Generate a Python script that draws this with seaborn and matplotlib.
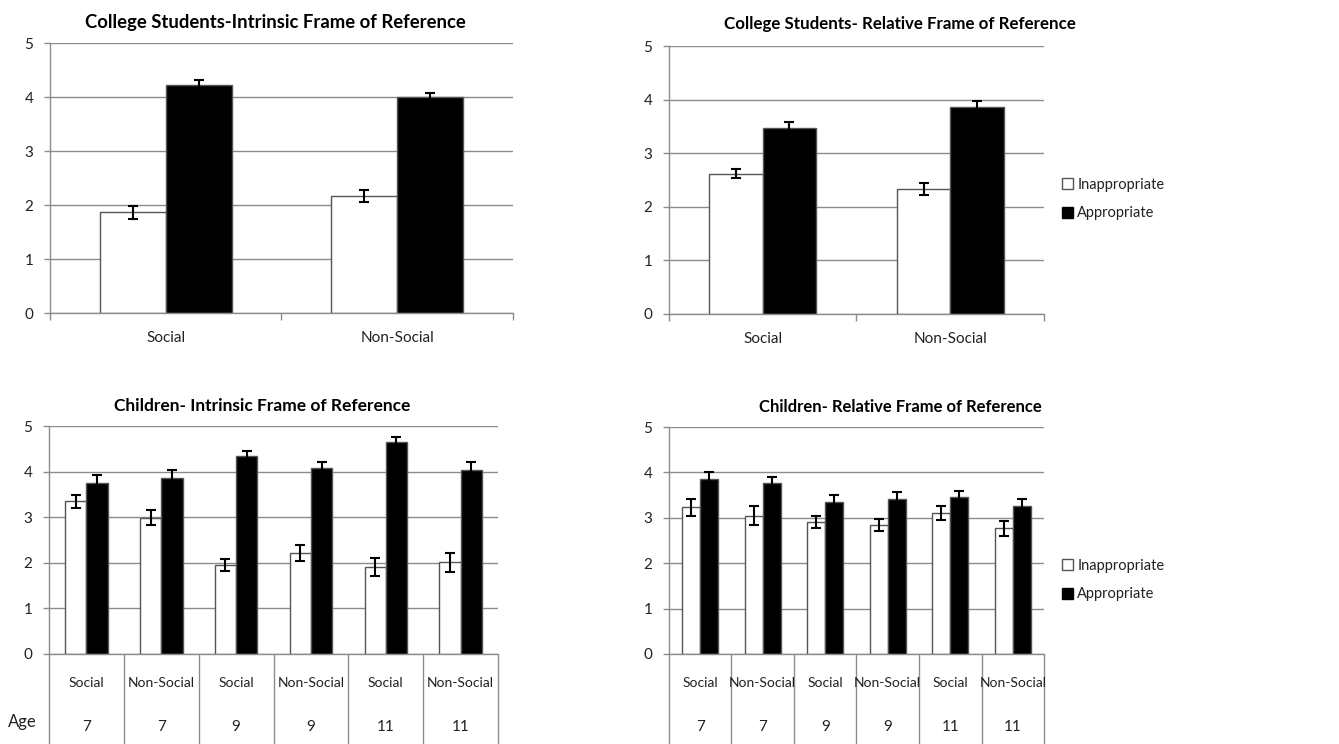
import numpy as np
import pandas as pd
import matplotlib
matplotlib.use("Agg")
import matplotlib.pyplot as plt
import matplotlib.transforms as mtransforms
from matplotlib.patches import Patch
import seaborn as sns

# ---------------- data ----------------
conditions = ["Inappropriate", "Appropriate"]

college_cats = ["Social", "Non-Social"]
col_intr_inapp = [1.87, 2.17]
col_intr_inapp_err = [0.12, 0.12]
col_intr_app = [4.22, 4.00]
col_intr_app_err = [0.09, 0.08]
col_rel_inapp = [2.62, 2.33]
col_rel_inapp_err = [0.09, 0.11]
col_rel_app = [3.48, 3.86]
col_rel_app_err = [0.11, 0.11]

child_types = ["Social", "Non-Social", "Social", "Non-Social", "Social", "Non-Social"]
child_ages = ["7", "7", "9", "9", "11", "11"]
child_intr_inapp = [3.35, 2.99, 1.95, 2.22, 1.91, 2.01]
child_intr_inapp_err = [0.14, 0.17, 0.14, 0.17, 0.19, 0.21]
child_intr_app = [3.74, 3.86, 4.34, 4.09, 4.66, 4.03]
child_intr_app_err = [0.19, 0.17, 0.12, 0.11, 0.11, 0.17]
child_rel_inapp = [3.23, 3.05, 2.90, 2.85, 3.11, 2.77]
child_rel_inapp_err = [0.19, 0.21, 0.13, 0.13, 0.16, 0.17]
child_rel_app = [3.86, 3.77, 3.35, 3.42, 3.46, 3.27]
child_rel_app_err = [0.15, 0.14, 0.16, 0.15, 0.13, 0.15]

titles = ["College Students-Intrinsic Frame of Reference",
          "College Students- Relative Frame of Reference",
          "Children- Intrinsic Frame of Reference",
          "Children- Relative Frame of Reference"]

# ---------------- style ----------------
sns.set_style("white")
plt.rcParams["font.family"] = ["Lato", "DejaVu Sans"]
GRID = "#8c8c8c"
EDGE = "#555555"
TXT = "#222222"

fig = plt.figure(figsize=(13.39, 7.44), dpi=100)
ax_tl = fig.add_axes([0.0373, 0.579, 0.3457, 0.363])
ax_tr = fig.add_axes([0.4996, 0.578, 0.2801, 0.360])
ax_bl = fig.add_axes([0.0366, 0.121, 0.3354, 0.3064])
ax_br = fig.add_axes([0.4996, 0.121, 0.2801, 0.3050])


def draw(ax, cats, inapp, inapp_err, app, app_err, title, title_x, title_fs, title_pad):
    n = len(cats)
    df = pd.DataFrame({
        "cat": cats * 2,
        "cond": [conditions[0]] * n + [conditions[1]] * n,
        "val": inapp + app,
        "err": inapp_err + app_err,
    })
    sns.barplot(data=df, x="cat", y="val", hue="cond", order=cats,
                hue_order=conditions,
                palette={"Inappropriate": "white", "Appropriate": "black"},
                width=0.57, edgecolor=EDGE, linewidth=1, errorbar=None,
                saturation=1, legend=False, ax=ax)
    for cont, cond in zip(ax.containers, conditions):
        sub = df[df.cond == cond].set_index("cat")
        xs, ys, es = [], [], []
        for b in cont:
            xc = b.get_x() + b.get_width() / 2
            idx = int(round(xc))
            xs.append(xc)
            ys.append(b.get_height())
            es.append(sub.loc[cats[idx], "err"])
        ax.errorbar(xs, ys, yerr=es, fmt="none", ecolor="black",
                    elinewidth=1.5, capsize=3.5, capthick=1.5, zorder=5)
    ax.set_xlim(-0.5, n - 0.5)
    ax.set_ylim(0, 5)
    ax.set_yticks(range(6))
    ax.yaxis.grid(True, color=GRID, lw=1)
    ax.xaxis.grid(False)
    ax.set_axisbelow(True)
    for s in ["top", "right"]:
        ax.spines[s].set_visible(False)
    for s in ["left", "bottom"]:
        ax.spines[s].set_color(GRID)
        ax.spines[s].set_linewidth(1)
    ax.tick_params(axis="y", length=4, width=1, color=GRID, labelsize=11,
                   pad=8, labelcolor=TXT, left=True)
    ax.set_xlabel("")
    ax.set_ylabel("")
    ax.set_title(title, fontsize=title_fs, fontweight="bold", x=title_x,
                 pad=title_pad, color="black")


# top panels
for ax, inapp, ie, app, ae, t, tx, tfs, tpad in [
    (ax_tl, col_intr_inapp, col_intr_inapp_err, col_intr_app, col_intr_app_err, titles[0], 0.487, 13.3, 11),
    (ax_tr, col_rel_inapp, col_rel_inapp_err, col_rel_app, col_rel_app_err, titles[1], 0.616, 12.2, 12),
]:
    draw(ax, college_cats, inapp, ie, app, ae, t, tx, tfs, tpad)
    n = len(college_cats)
    ax.set_xticks(range(n))
    ax.set_xticklabels(college_cats, fontsize=11, color=TXT)
    ax.tick_params(axis="x", which="major", length=0, pad=13)
    ax.set_xticks(np.arange(n + 1) - 0.5, minor=True)
    ax.tick_params(axis="x", which="minor", length=5, width=1, color=GRID,
                   bottom=True)

# bottom panels
child_keys = [f"{t}|{a}" for t, a in zip(child_types, child_ages)]
for ax, inapp, ie, app, ae, t, tx, tfs, tpad in [
    (ax_bl, child_intr_inapp, child_intr_inapp_err, child_intr_app, child_intr_app_err, titles[2], 0.474, 12.5, 11),
    (ax_br, child_rel_inapp, child_rel_inapp_err, child_rel_app, child_rel_app_err, titles[3], 0.616, 12.0, 11),
]:
    draw(ax, child_keys, inapp, ie, app, ae, t, tx, tfs, tpad)
    n = len(child_keys)
    ax.set_xticks([])
    trans = mtransforms.blended_transform_factory(ax.transData, ax.transAxes)
    for xb in np.arange(n + 1) - 0.5:
        ax.plot([xb, xb], [0, -0.45], color=GRID, lw=1, transform=trans,
                clip_on=False)
    for i, (ct, ag) in enumerate(zip(child_types, child_ages)):
        ax.text(i, -0.127, ct, transform=trans, ha="center", va="center",
                fontsize=10, color=TXT)
        ax.text(i, -0.32, ag, transform=trans, ha="center", va="center",
                fontsize=11, color=TXT)

fig.text(22 / 1339, 1 - 722 / 744, "Age", ha="center", va="center",
         fontsize=12, color=TXT)

# legends
handles = [Patch(facecolor="white", edgecolor=EDGE, lw=1),
           Patch(facecolor="black", edgecolor="black", lw=1)]
for yc in [1 - 199 / 744, 1 - 580 / 744]:
    fig.legend(handles, conditions, loc="center left",
               bbox_to_anchor=(1062 / 1339, yc), frameon=False,
               handlelength=0.75, handleheight=0.75, handletextpad=0.3,
               labelspacing=1.0, fontsize=10.5, labelcolor=TXT,
               borderpad=0, borderaxespad=0)

fig.savefig("out.png", dpi=100, facecolor="white")
